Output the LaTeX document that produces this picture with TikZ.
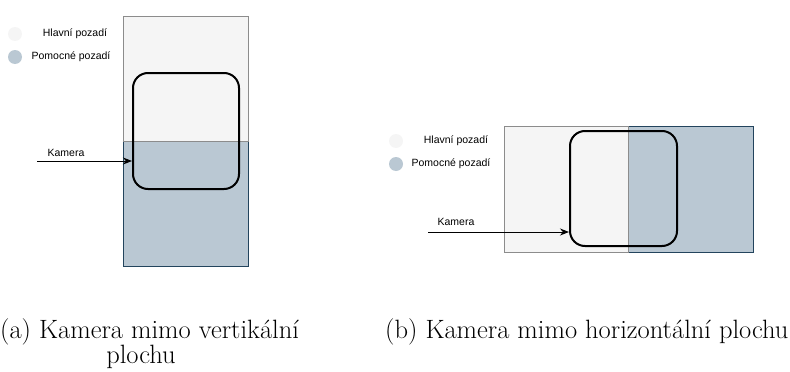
\documentclass[tikz,border=0pt]{standalone}
\usepackage{fontspec}
\newfontfamily\legendfont{Liberation Sans}
\usetikzlibrary{arrows.meta}
\definecolor{lightbg}{HTML}{F5F5F5}
\definecolor{lightline}{HTML}{8C8C8C}
\definecolor{bluebg}{HTML}{BAC8D3}
\definecolor{blueline}{HTML}{23445D}
\tikzset{
  mainpart/.style={draw=lightline, fill=lightbg, line width=1pt},
  auxpart/.style={draw=blueline, fill=bluebg, line width=1pt},
  camera/.style={draw=black, line width=2pt, rounded corners=15pt},
  legtext/.style={font=\legendfont\fontsize{10.5}{12}\selectfont, inner sep=0pt},
  legdot/.style={circle, minimum size=14pt, inner sep=0pt},
  arr/.style={-{Stealth[length=9pt,width=7pt]}, line width=1pt},
  capt/.style={font=\fontsize{26.5}{25}\selectfont, inner sep=0pt}
}
\begin{document}
\begin{tikzpicture}[x=1pt,y=-1pt]
\useasboundingbox (0,0) rectangle (790,372);
% ---------- left figure ----------
\path[auxpart] (123,141) rectangle (248,266);
\path[mainpart] (123,16) rectangle (248,141);
\node[legdot, fill=lightbg] (ld1) at (15,34) {};
\node[legdot, fill=bluebg] (ld2) at (15,57) {};
\node[legtext] (lt1) at (75,34) {Hlavní pozadí};
\node[legtext] (lt2) at (71,57) {Pomocné pozadí};
\node[camera, minimum width=106pt, minimum height=116pt] (cam1) at (186,131) {};
\coordinate (s1) at (37,161);
\draw[arr] (s1) -- (s1 -| cam1.west);
\node[legtext] (k1) at (66,153) {Kamera};
% ---------- right figure ----------
\path[auxpart] (628,126) rectangle (753,252);
\path[mainpart] (504,126) rectangle (628,252);
\node[legdot, fill=lightbg] (rd1) at (396,141) {};
\node[legdot, fill=bluebg] (rd2) at (396,164) {};
\node[legtext] (rt1) at (456,141) {Hlavní pozadí};
\node[legtext] (rt2) at (451,164) {Pomocné pozadí};
\node[camera, minimum width=107pt, minimum height=115pt] (cam2) at (623.5,188.5) {};
\coordinate (s2) at (428,232);
\draw[arr] (s2) -- (s2 -| cam2.west);
\node[legtext] (k2) at (456,222) {Kamera};
% ---------- captions ----------
\node[capt, anchor=base west] (ca) at (0,338) {(a) Kamera mimo vertikální};
\node[capt, anchor=base] (ca2) at (141,363) {plochu};
\node[capt, anchor=base west] (cb) at (385,338) {(b) Kamera mimo horizontální plochu};
\end{tikzpicture}
\end{document}
